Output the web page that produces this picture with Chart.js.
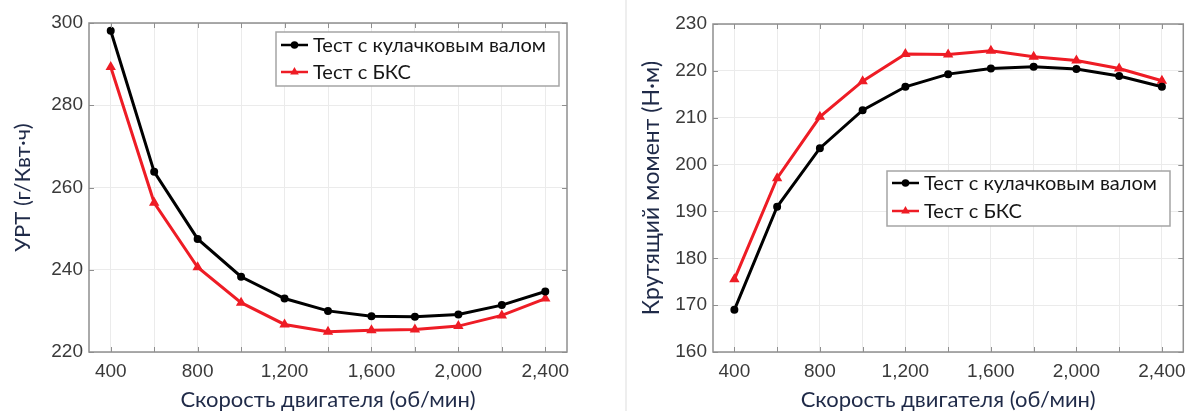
<!DOCTYPE html>
<html>
<head>
<meta charset="utf-8">
<script src="https://cdn.jsdelivr.net/npm/chart.js@4.4.1/dist/chart.umd.min.js"></script>
<style>
  html, body { margin: 0; padding: 0; background: #fff; overflow: hidden; }
  body { width: 1194px; height: 411px; position: relative; }
  .panel { position: absolute; top: 0; height: 411px; }
  #left { left: 0; width: 600px; }
  #right { left: 628px; width: 566px; }
  #divider { position: absolute; left: 625px; top: 0; width: 2px; height: 411px; background: #eeeeee; }
</style>
</head>
<body>
<div id="left" class="panel"><canvas id="bsfcChart"></canvas></div>
<div id="divider"></div>
<div id="right" class="panel"><canvas id="torqueChart"></canvas></div>

<script>
// engine speed, rpm
var speed = [400, 600, 800, 1000, 1200, 1400, 1600, 1800, 2000, 2200, 2400];

// left: УРТ, g/kWh
var bsfcCam = [298.1, 263.8, 247.5, 238.3, 233.0, 230.0, 228.7, 228.6, 229.1, 231.4, 234.7];
var bsfcVvt = [289.3, 256.3, 240.6, 232.0, 226.7, 224.9, 225.3, 225.5, 226.3, 228.9, 233.0];

// right: torque, N·m
var torqueCam = [169.0, 191.0, 203.5, 211.6, 216.6, 219.3, 220.5, 220.9, 220.4, 218.9, 216.6];
var torqueVvt = [175.5, 197.1, 210.2, 217.8, 223.6, 223.5, 224.3, 223.0, 222.2, 220.5, 217.9];

var seriesNames = ['Тест с кулачковым валом', 'Тест с БКС'];

// x grid every 200, labels every 400
var gridSpeed = [400, 600, 800, 1000, 1200, 1400, 1600, 1800, 2000, 2200, 2400];
var labelSpeed = [400, 800, 1200, 1600, 2000, 2400];
var speedLabels = ['400', '800', '1,200', '1,600', '2,000', '2,400'];

var xTitle = 'Скорость двигателя (об/мин)';

function pts(ys) {
  return speed.map(function (x, i) { return { x: x, y: ys[i] }; });
}

// matlab-ish box: full frame + inward ticks
var frame = {
  id: 'frame',
  afterDatasetsDraw: function (chart) {
    var a = chart.chartArea, ctx = chart.ctx;
    var xs = chart.scales.x, ys = chart.scales.y;
    ctx.save();
    ctx.strokeStyle = '#8f8f8f';
    ctx.lineWidth = 1;
    ctx.beginPath();
    xs.ticks.forEach(function (t) {
      var px = Math.round(xs.getPixelForValue(t.value)) + 0.5;
      ctx.moveTo(px, a.bottom); ctx.lineTo(px, a.bottom - 5);
      ctx.moveTo(px, a.top); ctx.lineTo(px, a.top + 5);
    });
    ys.ticks.forEach(function (t) {
      var py = Math.round(ys.getPixelForValue(t.value)) + 0.5;
      ctx.moveTo(a.left, py); ctx.lineTo(a.left + 5, py);
      ctx.moveTo(a.right, py); ctx.lineTo(a.right - 5, py);
    });
    ctx.stroke();
    ctx.lineWidth = 1.5;
    ctx.strokeRect(a.left, a.top, a.right - a.left, a.bottom - a.top);
    ctx.restore();
  }
};

// legend drawn inside the plot
var legendBox = {
  id: 'legendBox',
  afterDraw: function (chart, args, o) {
    var ctx = chart.ctx;
    ctx.save();
    ctx.fillStyle = '#ffffff';
    ctx.fillRect(o.x, o.y, o.w, o.h);
    ctx.strokeStyle = '#a5a5a5';
    ctx.lineWidth = 1.5;
    ctx.strokeRect(o.x, o.y, o.w, o.h);
    ctx.font = '20px Lato';
    ctx.textBaseline = 'middle';
    chart.data.datasets.forEach(function (ds, i) {
      var cy = o.y + o.rowTop + i * o.rowGap;
      var x0 = o.x + 5, x1 = o.x + 32;
      ctx.strokeStyle = ds.borderColor;
      ctx.lineWidth = 2.5;
      ctx.beginPath(); ctx.moveTo(x0, cy); ctx.lineTo(x1, cy); ctx.stroke();
      ctx.fillStyle = ds.pointBackgroundColor;
      ctx.strokeStyle = ds.borderColor;
      Chart.helpers.drawPoint(ctx, { pointStyle: ds.pointStyle, radius: 2.5, borderWidth: 1, rotation: 0 }, (x0 + x1) / 2, cy);
      ctx.fillStyle = '#161616';
      ctx.fillText(ds.label, x1 + 5, cy + 1);
    });
    ctx.restore();
  }
};

function makeChart(id, a, b, cfg) {
  return new Chart(document.getElementById(id), {
    type: 'line',
    data: {
      datasets: [{
        label: seriesNames[0],
        data: pts(a),
        borderColor: '#000000',
        pointBackgroundColor: '#000000',
        pointBorderColor: '#000000',
        pointStyle: 'circle',
        pointRadius: 2.5,
        borderWidth: 3
      }, {
        label: seriesNames[1],
        data: pts(b),
        borderColor: '#ee1c25',
        pointBackgroundColor: '#ee1c25',
        pointBorderColor: '#ee1c25',
        pointStyle: 'triangle',
        pointRadius: 3,
        borderWidth: 3
      }]
    },
    options: {
      responsive: true,
      maintainAspectRatio: false,
      animation: false,
      layout: { padding: { top: cfg.top, right: cfg.right, left: 0, bottom: 0 } },
      plugins: {
        legend: { display: false },
        tooltip: { enabled: false },
        legendBox: cfg.legend
      },
      scales: {
        x: {
          type: 'linear',
          min: 300,
          max: 2500,
          afterBuildTicks: function (s) {
            s.ticks = gridSpeed.map(function (v) { return { value: v }; });
          },
          afterFit: function (s) { s.height = 59; },
          grid: { color: '#ebebeb', drawTicks: false },
          border: { display: false },
          ticks: {
            autoSkip: false,
            maxRotation: 0,
            padding: 8,
            color: '#3a3a3a',
            font: { family: 'Liberation Sans', size: 19 },
            callback: function (v) {
              var i = labelSpeed.indexOf(v);
              return i >= 0 ? speedLabels[i] : '';
            }
          },
          title: {
            display: true,
            text: xTitle,
            color: '#1f2a48',
            font: { family: 'Lato', size: 22, lineHeight: 1 },
            padding: { top: 0, bottom: 0 }
          }
        },
        y: {
          min: cfg.yMin,
          max: cfg.yMax,
          afterFit: function (s) { s.width = cfg.yWidth; },
          grid: { color: '#ebebeb', drawTicks: false },
          border: { display: false },
          ticks: {
            stepSize: cfg.yStep,
            padding: 6,
            color: '#3a3a3a',
            font: { family: 'Liberation Sans', size: 19 }
          },
          title: {
            display: true,
            text: cfg.yTitle,
            color: '#1f2a48',
            font: { family: 'Lato', size: cfg.titleSize, lineHeight: 1.2 },
            padding: { top: cfg.titlePad, bottom: 0 }
          }
        }
      }
    },
    plugins: [frame, legendBox]
  });
}

makeChart('bsfcChart', bsfcCam, bsfcVvt, {
  top: 23, right: 33, yWidth: 89, yMin: 220, yMax: 300, yStep: 20,
  yTitle: 'УРТ (г/Квт·ч)', titlePad: 10, titleSize: 22,
  legend: { x: 276, y: 32, w: 283, h: 54, rowTop: 13, rowGap: 27 }
});

makeChart('torqueChart', torqueCam, torqueVvt, {
  top: 24, right: 7, yWidth: 85, yMin: 160, yMax: 230, yStep: 10,
  yTitle: 'Крутящий момент (Н·м)', titlePad: 10, titleSize: 23,
  legend: { x: 259, y: 171, w: 283, h: 55, rowTop: 12, rowGap: 28 }
});
</script>
</body>
</html>
